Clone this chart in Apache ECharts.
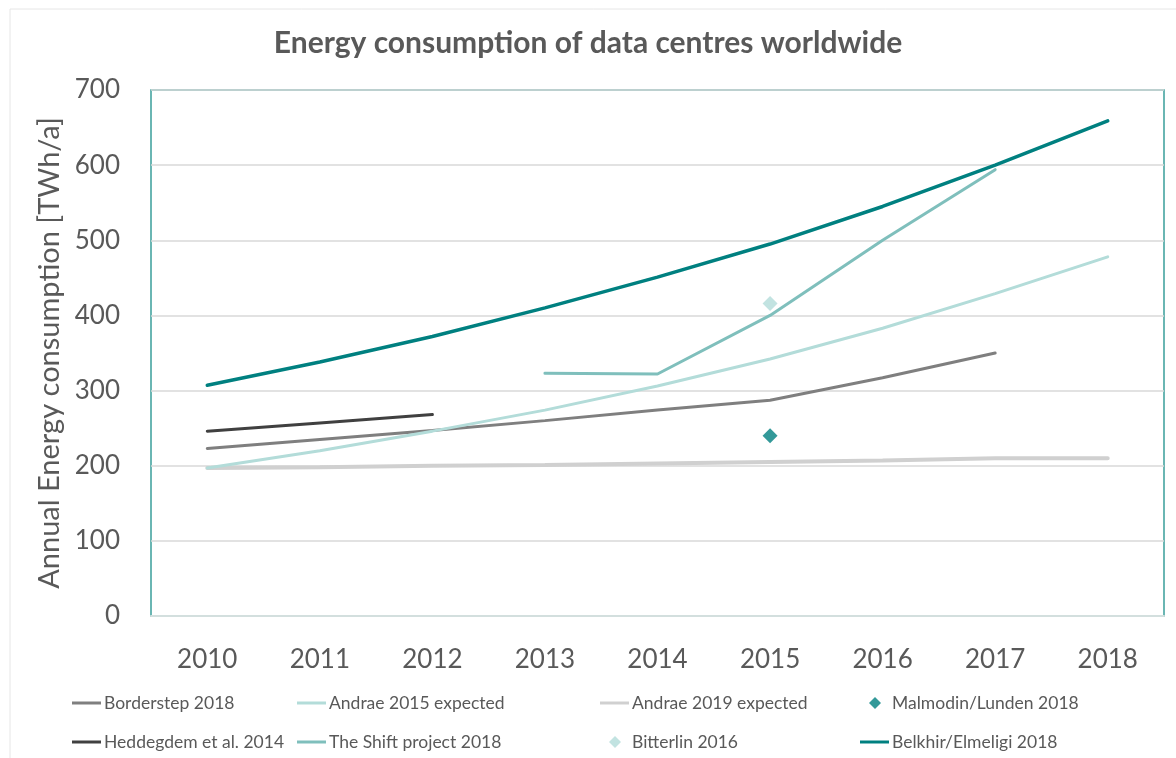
<!DOCTYPE html>
<html>
<head>
<meta charset="utf-8">
<script src="https://cdn.jsdelivr.net/npm/echarts@6/dist/echarts.min.js"></script>
<style>
  html, body { margin: 0; padding: 0; background: #fff; }
  #main { width: 1176px; height: 758px; }
</style>
</head>
<body>
<div id="main"></div>
<script>
var years = ['2010', '2011', '2012', '2013', '2014', '2015', '2016', '2017', '2018'];
var yTicks = [0, 100, 200, 300, 400, 500, 600, 700];

var borderstep = [223, 235, 247, 260, 274, 287, 317, 350, null];
var andrae2015 = [197, 220, 246, 274, 306, 342, 383, 429, 478];
var andrae2019 = [197, 198, 200, 201, 203, 205, 207, 210, 210];
var malmodin   = [null, null, null, null, null, 240, null, null, null];
var heddegdem  = [246, 257, 268, null, null, null, null, null, null];
var shift      = [null, null, null, 323, 322, 400, 500, 594, null];
var bitterlin  = [null, null, null, null, null, 416, null, null, null];
var belkhir    = [307, 338, 372, 410, 451, 495, 545, 600, 659];

var font = 'Lato';
var textColor = '#595959';

function lineSeries(name, data, color, width) {
    return {
        name: name,
        type: 'line',
        data: data,
        symbol: 'none',
        connectNulls: false,
        lineStyle: { color: color, width: width, cap: 'round' },
        itemStyle: { color: color },
        emphasis: { disabled: true }
    };
}
function pointSeries(name, data, color) {
    return {
        name: name,
        type: 'scatter',
        data: data,
        symbol: 'diamond',
        symbolSize: 15,
        itemStyle: { color: color },
        emphasis: { disabled: true }
    };
}
// one legend per item, laid out like the original two-row legend
function legendItem(name, left, top, isPoint) {
    return {
        data: [{ name: name, icon: isPoint ? 'diamond' : 'rect' }],
        left: left,
        top: top,
        padding: 0,
        itemWidth: isPoint ? 12 : 29,
        itemHeight: isPoint ? 12 : 3,
        itemGap: 0,
        selectedMode: false,
        itemStyle: { borderWidth: 0 },
        lineStyle: { width: 0 },
        textStyle: { fontFamily: font, fontSize: 17.5, color: textColor, padding: [0, 0, 0, isPoint ? 6 : -2] }
    };
}

var myChart = echarts.init(document.getElementById('main'));
option = {
    backgroundColor: '#fff',
    animation: false,
    graphic: [{
        type: 'rect',
        shape: { x: 10, y: 9, width: 1180, height: 760 },
        style: { fill: 'none', stroke: '#e6e6e6', lineWidth: 1 },
        silent: true
    }],
    title: {
        text: 'Energy consumption of data centres worldwide',
        left: 'center',
        top: 23,
        textStyle: { fontFamily: font, fontSize: 30, fontWeight: 'bold', color: textColor }
    },
    legend: [
        legendItem('Borderstep 2018', 72, 694, false),
        legendItem('Andrae 2015 expected', 297, 694, false),
        legendItem('Andrae 2019 expected', 600, 694, false),
        legendItem('Malmodin/Lunden 2018', 869, 694, true),
        legendItem('Heddegdem et al. 2014', 72, 733, false),
        legendItem('The Shift project 2018', 297, 733, false),
        legendItem('Bitterlin 2016', 609, 733, true),
        legendItem('Belkhir/Elmeligi 2018', 860, 733, false)
    ],
    grid: {
        left: 151, right: 12, top: 90, bottom: 142,
        show: true,
        borderColor: '#3a9f9b',
        borderWidth: 1.5,
        containLabel: false
    },
    xAxis: {
        type: 'category',
        data: years,
        boundaryGap: true,
        axisLine: { lineStyle: { color: '#d3dfde', width: 2 } },
        axisTick: { show: false },
        axisLabel: { fontFamily: font, fontSize: 26, color: textColor, margin: 31 }
    },
    yAxis: {
        type: 'value',
        min: yTicks[0],
        max: yTicks[yTicks.length - 1],
        interval: 100,
        name: 'Annual Energy consumption [TWh/a]',
        nameLocation: 'middle',
        nameGap: 86,
        nameTextStyle: { fontFamily: font, fontSize: 29, color: textColor },
        axisLine: { show: false },
        axisTick: { show: false },
        axisLabel: { fontFamily: font, fontSize: 26, color: textColor, margin: 31 },
        splitLine: { lineStyle: { color: '#d9d9d9', width: 1.5 } }
    },
    series: [
        lineSeries('Andrae 2019 expected', andrae2019, '#d0d0d0', 4),
        lineSeries('Borderstep 2018', borderstep, '#7f7f7f', 3),
        lineSeries('Heddegdem et al. 2014', heddegdem, '#404040', 3),
        lineSeries('Andrae 2015 expected', andrae2015, '#b3dcd9', 3),
        lineSeries('The Shift project 2018', shift, '#7fbfbc', 3),
        lineSeries('Belkhir/Elmeligi 2018', belkhir, '#008080', 3.5),
        pointSeries('Malmodin/Lunden 2018', malmodin, '#008080'),
        pointSeries('Bitterlin 2016', bitterlin, '#b3dcd9')
    ]
};
myChart.setOption(option);
</script>
</body>
</html>
